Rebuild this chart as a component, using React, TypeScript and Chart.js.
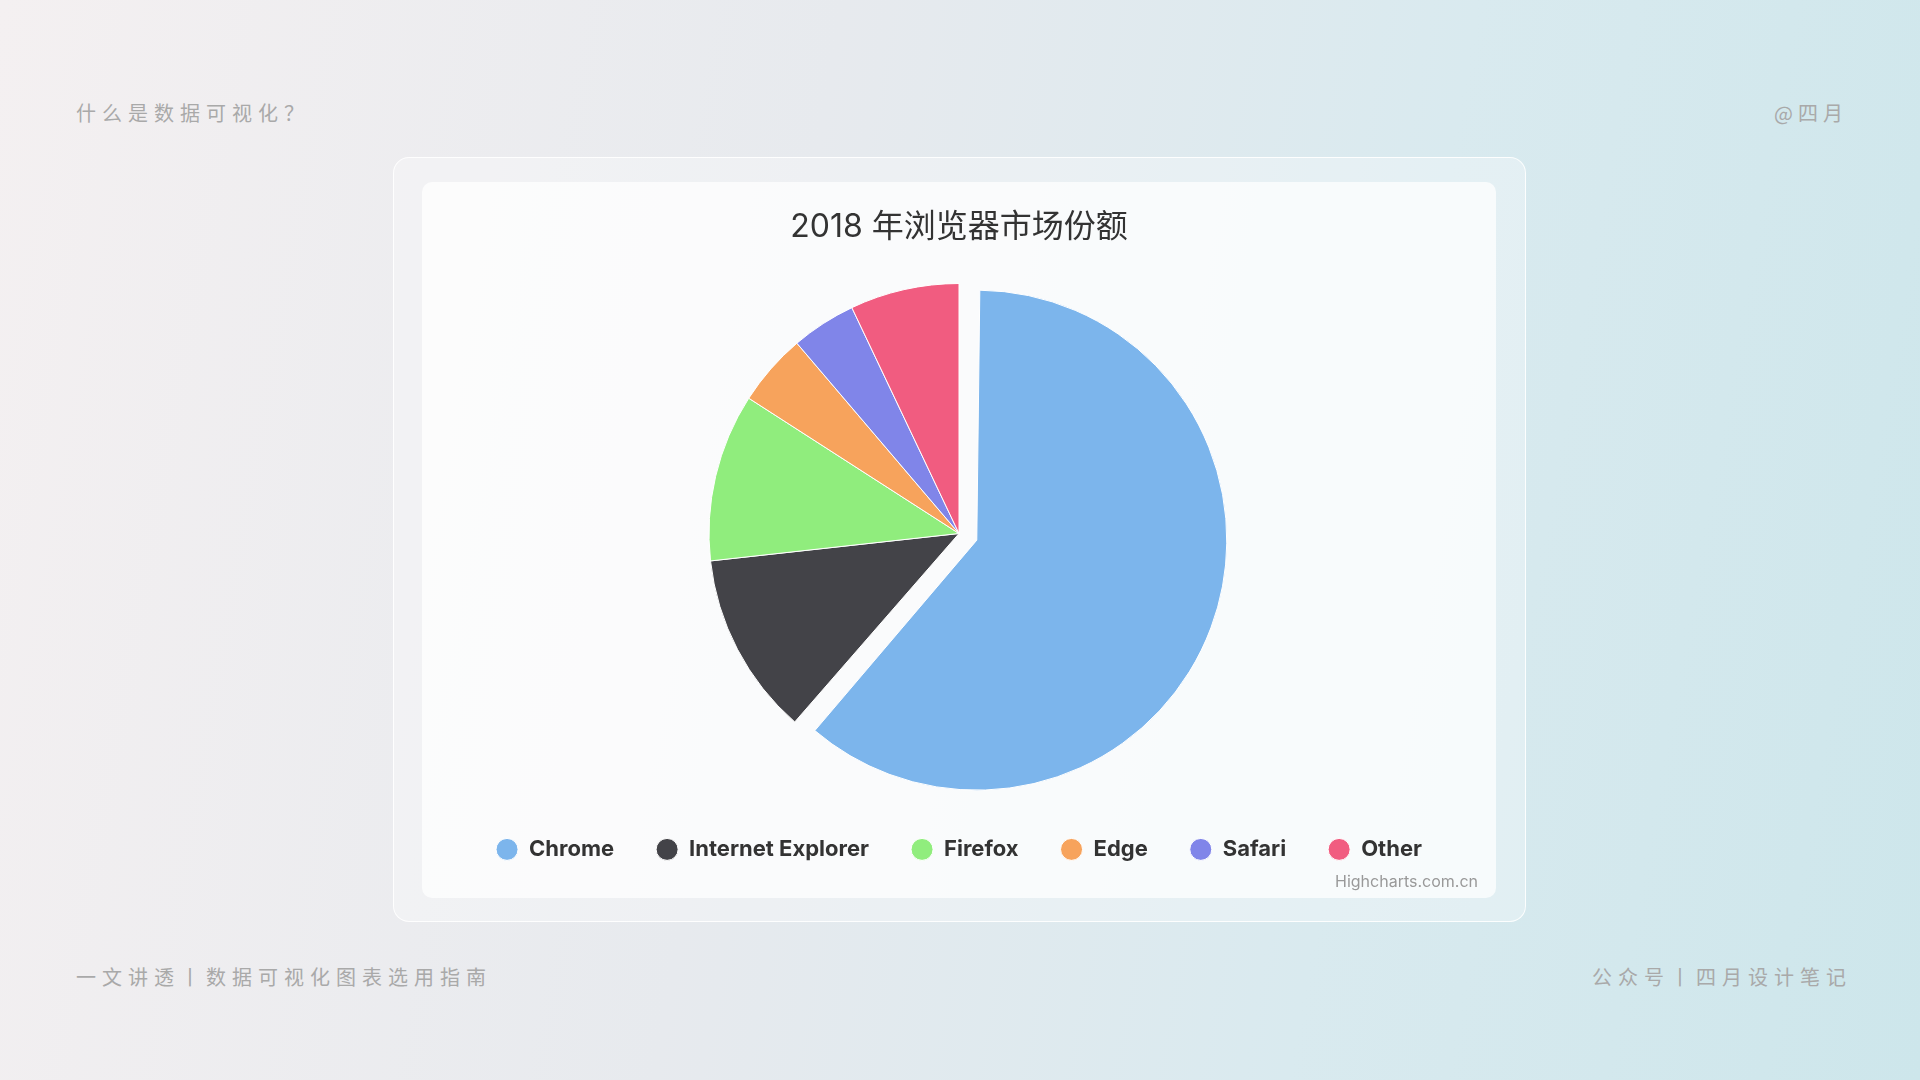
import React, { useEffect, useRef } from "react";
import { Chart, registerables } from "chart.js";

Chart.register(...registerables);

const categories = ["Chrome", "Internet Explorer", "Firefox", "Edge", "Safari", "Other"];
const shares = [61.41, 11.84, 10.85, 4.67, 4.18, 7.05];
const colors = ["#7cb5ec", "#434348", "#90ed7d", "#f7a35c", "#8085e9", "#f15c80"];
const slicedOffsets = [76, 0, 0, 0, 0, 0];
const chartTitle = "2018 年浏览器市场份额";
const creditText = "Highcharts.com.cn";

const sliceRadiusFix = {
  id: "sliceRadiusFix",
  beforeDatasetsDraw(chart: any) {
    const meta = chart.getDatasetMeta(0);
    const R = meta.controller.outerRadius;
    meta.data.forEach((arc: any) => {
      const off = (arc.options.offset || 0) / 4;
      const fix = 1 - Math.sin(Math.min(Math.PI, arc.circumference || 0));
      arc.outerRadius = R - off * fix;
    });
  },
};

const cornerStyle: React.CSSProperties = {
  position: "absolute",
  fontFamily: "'Noto Sans CJK SC', sans-serif",
  fontSize: 20,
  lineHeight: "20px",
  color: "#a9a9a9",
  letterSpacing: "6px",
  whiteSpace: "nowrap",
};

export default function App() {
  const ref = useRef<HTMLCanvasElement | null>(null);

  useEffect(() => {
    if (!ref.current) return;
    const chart = new Chart(ref.current, {
      type: "pie",
      data: {
        labels: categories,
        datasets: [
          {
            data: shares,
            backgroundColor: colors,
            borderColor: "#ffffff",
            borderWidth: 1,
            offset: slicedOffsets,
            hoverOffset: 0,
            clip: false as any,
          },
        ],
      },
      options: {
        responsive: false,
        animation: false,
        events: [],
        radius: 250,
        layout: { padding: { top: 0, bottom: 6.4, left: 18, right: 18 } },
        plugins: {
          title: {
            display: true,
            text: chartTitle,
            color: "#333333",
            font: { family: "Inter, 'Noto Sans CJK SC', sans-serif", size: 32, weight: "normal" as any, lineHeight: 1.2 },
            padding: { top: 25.8, bottom: 24.4 },
          },
          subtitle: {
            display: true,
            text: creditText,
            position: "bottom",
            align: "end",
            color: "#999999",
            font: { family: "Inter, sans-serif", size: 16, weight: "normal" as any, lineHeight: 1.2 },
            padding: { top: 2, bottom: 0 },
          },
          legend: {
            display: true,
            position: "bottom",
            labels: {
              usePointStyle: true,
              pointStyle: "circle",
              pointStyleWidth: 22,
              boxHeight: 15.5,
              padding: 42,
              color: "#333333",
              font: { family: "Inter, sans-serif", size: 22, weight: "bold" as any },
            },
          },
          tooltip: { enabled: false },
        },
      },
      plugins: [sliceRadiusFix],
    });
    return () => chart.destroy();
  }, []);

  return (
    <div
      style={{
        position: "fixed",
        left: 0,
        top: 0,
        width: 1920,
        height: 1080,
        overflow: "hidden",
        background: "linear-gradient(100deg, #f4f0f1 0%, #e7eaee 40%, #d9eaef 70%, #cde6eb 100%)",
      }}
    >
      <div style={{ ...cornerStyle, left: 76, top: 103 }}>什么是数据可视化？</div>
      <div style={{ ...cornerStyle, right: 72, top: 103, letterSpacing: "5px" }}>@四月</div>
      <div style={{ ...cornerStyle, left: 76, top: 967 }}>一文讲透丨数据可视化图表选用指南</div>
      <div style={{ ...cornerStyle, right: 68, top: 967 }}>公众号丨四月设计笔记</div>

      <div
        style={{
          position: "absolute",
          left: 393,
          top: 157,
          width: 1133,
          height: 765,
          boxSizing: "border-box",
          borderRadius: 16,
          border: "1.5px solid rgba(255,255,255,0.9)",
          background: "rgba(255,255,255,0.3)",
        }}
      />
      <div
        style={{
          position: "absolute",
          left: 422,
          top: 182,
          width: 1074,
          height: 716,
          borderRadius: 10,
          background: "rgba(255,255,255,0.72)",
        }}
      />
      <canvas
        ref={ref}
        width={1074}
        height={716}
        style={{ position: "absolute", left: 422, top: 182, width: 1074, height: 716 }}
      />
    </div>
  );
}
